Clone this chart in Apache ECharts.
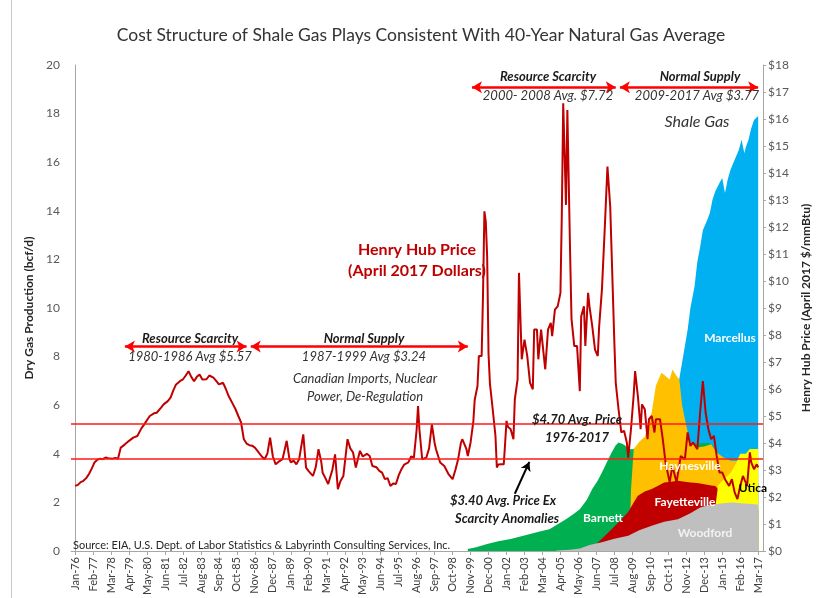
<!DOCTYPE html>
<html>
<head>
<meta charset="utf-8">
<title>Shale Gas Plays vs Henry Hub Price</title>
<script src="https://cdn.jsdelivr.net/npm/echarts@6/dist/echarts.min.js"></script>
<style>
  html, body { margin: 0; padding: 0; background: #fff; }
  #chart { width: 820px; height: 598px; }
</style>
</head>
<body>
<div id="chart"></div>
<script>
// x positions are month indices counted from Jan-76 (0) to Mar-17 (494)
const xTickLabels = [
  "Jan-76", "Feb-77", "Mar-78", "Apr-79", "May-80", "Jun-81", "Jul-82", "Aug-83",
  "Sep-84", "Oct-85", "Nov-86", "Dec-87", "Jan-89", "Feb-90", "Mar-91", "Apr-92",
  "May-93", "Jun-94", "Jul-95", "Aug-96", "Sep-97", "Oct-98", "Nov-99", "Dec-00",
  "Jan-02", "Feb-03", "Mar-04", "Apr-05", "May-06", "Jun-07", "Jul-08", "Aug-09",
  "Sep-10", "Oct-11", "Nov-12", "Dec-13", "Jan-15", "Feb-16", "Mar-17"
];
const tickStep = 13;

// Henry Hub price, April 2017 $/mmBtu  [month, price]
const henryHub = [
  [0,2.41],[2,2.45],[4,2.55],[6,2.6],[8,2.7],[10,2.85],[12,3.05],[14,3.28],[16,3.38],[18,3.42],
  [20,3.4],[22,3.46],[24,3.44],[25,3.5],[27,3.42],[29,3.45],[31,3.42],[33,3.83],[36,3.95],[39,4.08],
  [42,4.2],[45,4.26],[48,4.55],[50,4.69],[52,4.85],[54,5.0],[57,5.1],[59,5.12],[62,5.3],[64,5.43],
  [67,5.55],[69,5.68],[71,5.95],[73,6.17],[76,6.3],[78,6.36],[80,6.5],[82,6.66],[84,6.45],[86,6.29],
  [88,6.45],[90,6.54],[92,6.35],[95,6.36],[97,6.5],[100,6.42],[102,6.3],[104,6.17],[107,6.23],[109,6.0],
  [111,5.74],[114,5.45],[116,5.25],[118,5.0],[120,4.76],[122,4.14],[124,3.98],[126,3.92],[128,3.9],[130,3.83],
  [132,3.7],[135,3.5],[137,3.4],[139,3.6],[141,4.2],[143,3.5],[145,3.21],[147,3.3],[150,3.4],[153,4.08],
  [155,3.4],[156,3.28],[158,3.35],[160,3.21],[162,3.4],[165,4.32],[167,3.09],[169,2.95],[172,2.78],[174,3.1],
  [176,3.77],[178,3.3],[179,2.9],[181,2.7],[183,2.48],[186,3.0],[188,3.58],[190,2.29],[192,2.6],[194,2.78],
  [197,4.14],[199,3.8],[201,3.65],[203,3.09],[206,3.71],[208,3.5],[211,3.6],[213,3.52],[215,3.15],[218,3.1],
  [220,2.97],[222,2.9],[224,2.66],[226,2.7],[228,2.41],[230,2.5],[232,2.48],[234,2.8],[236,3.03],[238,3.2],
  [241,3.28],[243,3.5],[245,3.46],[247,4.5],[248,5.37],[249,4.5],[251,3.4],[254,3.46],[256,3.8],[258,4.69],
  [260,4.0],[261,3.77],[264,3.28],[267,3.15],[270,2.85],[273,2.66],[275,3.0],[277,3.4],[279,4.0],[280,4.14],
  [281,4.02],[283,3.77],[284,3.52],[286,4.02],[288,4.8],[289,5.6],[291,6.11],[292,7.22],[294,7.22],[295,9.5],
  [296,12.58],[297,12.2],[298,10.9],[299,7.28],[300,6.2],[302,5.25],[304,4.26],[305,3.09],[306,3.2],[308,3.21],
  [310,3.21],[311,4.0],[312,4.82],[313,4.6],[315,4.51],[317,4.14],[318,5.62],[320,6.36],[321,10.3],[323,7.1],
  [325,7.83],[327,7.22],[329,6.23],[331,5.99],[332,8.2],[334,8.2],[335,7.1],[337,8.2],[340,6.73],[342,8.2],
  [344,8.45],[345,7.96],[347,8.94],[349,9.06],[351,9.56],[352,12.5],[353,16.58],[355,12.82],[356,16.33],[358,11.0],
  [359,8.6],[361,7.59],[363,7.59],[365,5.92],[366,8.69],[368,9.06],[369,7.59],[371,9.56],[372,9.06],[374,8.33],
  [376,7.46],[378,7.22],[379,8.33],[381,9.68],[383,11.9],[385,14.24],[387,12.76],[390,7.71],[391,6.23],[393,5.25],
  [395,4.39],[397,4.45],[399,4.02],[400,3.46],[402,4.51],[404,5.8],[405,6.66],[407,5.74],[409,4.51],[410,5.43],
  [412,5.25],[414,4.14],[415,4.88],[417,5.0],[419,4.39],[420,4.88],[423,4.88],[425,4.14],[427,3.28],[430,2.54],
  [432,3.15],[435,2.54],[438,3.52],[441,3.4],[443,4.39],[445,3.89],[447,4.02],[450,3.77],[452,5.12],[454,6.29],
  [456,5.12],[458,4.51],[460,4.14],[462,4.26],[464,3.52],[466,2.91],[468,2.91],[470,2.66],[473,2.41],[475,2.66],
  [477,2.17],[479,1.92],[481,2.41],[483,2.78],[486,2.41],[488,3.65],[489,3.28],[491,3.03],[493,3.21],[494,3.1]
];

// dry gas production by play, bcf/d  [month, value]
const marcellus = [
  [384,0.1],[400,0.5],[410,1.5],[420,3.0],[428,4.5],[434,6.0],[437,7.1],[440,8.1],[443,9.1],[445,10.0],
  [448,10.9],[450,11.9],[452,12.5],[454,13.2],[457,13.6],[459,13.9],[461,14.46],[463,14.8],[466,15.14],[468,15.35],
  [470,14.73],[472,15.3],[474,15.69],[477,16.1],[480,16.5],[482,16.92],[484,16.37],[485,16.6],[487,16.92],[489,17.4],
  [491,17.74],[494,17.9]
];
const barnett = [
  [284,0.08],[290,0.15],[298,0.29],[306,0.4],[315,0.49],[322,0.6],[329,0.7],[336,0.8],[343,0.9],[349,1.1],
  [355,1.31],[360,1.5],[365,1.72],[370,2.1],[374,2.55],[378,2.9],[381,3.23],[385,3.7],[388,4.05],[391,4.35],
  [393,4.46],[396,4.4],[398,4.33],[400,4.2],[403,4.19],[410,4.3],[420,4.4],[430,4.45],[440,4.4],[450,4.42],
  [458,4.45],[462,4.3],[466,3.8],[472,3.5],[480,3.2],[494,2.8]
];
const haynesville = [
  [401,0.3],[402,2.5],[404,4.2],[408,4.5],[412,4.7],[417,5.7],[420,6.8],[424,7.34],[427,7.2],[430,7.06],
  [432,7.47],[435,7.2],[437,7.06],[439,6.0],[442,5.15],[445,4.46],[450,4.26],[455,4.3],[460,4.39],[464,4.05],
  [469,3.85],[474,3.71],[480,3.7],[486,3.7],[494,3.9]
];
const fayetteville = [
  [368,0.05],[375,0.2],[381,0.5],[388,0.9],[395,1.3],[400,1.6],[404,2.0],[407,2.27],[412,2.45],[417,2.55],
  [422,2.7],[426,2.82],[431,2.85],[436,2.89],[441,2.85],[445,2.82],[450,2.8],[455,2.75],[460,2.7],[463,2.68],
  [466,2.48],[470,2.3],[480,2.0],[494,1.7]
];
const utica = [
  [452,0.1],[456,0.4],[460,1.0],[463,1.8],[465,2.7],[470,3.0],[474,3.2],[478,3.6],[481,4.0],[485,4.0],
  [488,4.2],[494,4.2]
];
const woodford = [
  [348,0.02],[358,0.05],[365,0.1],[372,0.25],[381,0.36],[390,0.5],[400,0.63],[408,0.85],[417,1.04],[426,1.2],
  [436,1.31],[445,1.55],[452,1.79],[458,1.88],[464,1.93],[470,1.98],[476,2.0],[484,1.95],[490,1.93],[494,1.9]
];

const avgPrice = 4.70;
const avgPriceExScarcity = 3.40;

const FONT = "Lato";
const chart = echarts.init(document.getElementById("chart"));

function area(name, data, color) {
  return {
    name: name,
    type: "line",
    yAxisIndex: 0,
    data: data,
    symbol: "none",
    silent: true,
    lineStyle: { width: 0 },
    areaStyle: { color: color, opacity: 1 }
  };
}

function txt(text, x, y, font, fill) {
  return {
    type: "text",
    x: x,
    y: y,
    silent: true,
    z: 100,
    style: {
      text: text,
      font: font,
      fill: fill || "#1a1a1a",
      align: "center",
      verticalAlign: "middle",
      textAlign: "center",
      textVerticalAlign: "middle"
    }
  };
}

const redArrow = { color: "#ff0000", width: 2.5, type: "solid" };

const option = {
  animation: false,
  backgroundColor: "#fff",
  textStyle: { fontFamily: FONT },
  grid: { left: 71, right: 48, top: 65, bottom: 47 },
  xAxis: {
    type: "value",
    min: -3,
    max: 497.5,
    splitLine: { show: false },
    axisLine: { show: true, lineStyle: { color: "#a6a6a6" } },
    axisTick: {
      show: true,
      length: 4,
      customValues: xTickLabels.map((_, i) => i * tickStep),
      lineStyle: { color: "#a6a6a6" }
    },
    axisLabel: {
      rotate: 90,
      fontSize: 11,
      color: "#404040",
      margin: 6,
      customValues: xTickLabels.map((_, i) => i * tickStep),
      formatter: v => xTickLabels[Math.round(v / tickStep)]
    }
  },
  yAxis: [
    {
      type: "value",
      min: 0,
      max: 20,
      interval: 2,
      name: "Dry Gas Production (bcf/d)",
      nameLocation: "middle",
      nameRotate: 90,
      nameGap: 36,
      nameTextStyle: { fontWeight: "bold", fontSize: 12, color: "#262626" },
      splitLine: { show: false },
      axisTick: { show: false },
      axisLine: { show: true, lineStyle: { color: "#a6a6a6" } },
      axisLabel: { color: "#595959", fontSize: 12, margin: 11 }
    },
    {
      type: "value",
      min: 0,
      max: 18,
      interval: 1,
      position: "right",
      name: "Henry Hub Price (April 2017 $/mmBtu)",
      nameLocation: "middle",
      nameRotate: 90,
      nameGap: 37,
      nameTextStyle: { fontWeight: "bold", fontSize: 12, color: "#262626" },
      splitLine: { show: false },
      axisTick: { show: true, length: 3, lineStyle: { color: "#a6a6a6" } },
      axisLine: { show: true, lineStyle: { color: "#a6a6a6" } },
      axisLabel: { color: "#595959", fontSize: 12, margin: 5, formatter: "${value}" }
    }
  ],
  series: [
    area("Marcellus", marcellus, "#00b0f0"),
    area("Barnett", barnett, "#00b050"),
    area("Haynesville", haynesville, "#ffc000"),
    area("Fayetteville", fayetteville, "#c00000"),
    area("Utica", utica, "#ffff00"),
    area("Woodford", woodford, "#bfbfbf"),
    {
      name: "Henry Hub Price",
      type: "line",
      yAxisIndex: 1,
      data: henryHub,
      symbol: "none",
      silent: true,
      lineStyle: { color: "#c00000", width: 2 },
      markLine: {
        silent: true,
        symbol: "none",
        label: { show: false },
        lineStyle: { color: "#ff1a1a", width: 1.5, type: "solid" },
        data: [{ yAxis: avgPrice }, { yAxis: avgPriceExScarcity }]
      }
    },
    {
      name: "periods",
      type: "line",
      yAxisIndex: 1,
      data: [],
      silent: true,
      markLine: {
        silent: true,
        symbol: ["arrow", "arrow"],
        symbolSize: [9, 10],
        label: { show: false },
        lineStyle: redArrow,
        data: [
          [{ coord: [36, 7.57] }, { coord: [124, 7.57] }],
          [{ coord: [127, 7.57] }, { coord: [284, 7.57] }],
          [{ coord: [287, 17.18] }, { coord: [391, 17.18] }],
          [{ coord: [394, 17.18] }, { coord: [494, 17.18] }]
        ]
      }
    },
    {
      name: "pointer",
      type: "line",
      yAxisIndex: 1,
      data: [],
      silent: true,
      markLine: {
        silent: true,
        symbol: ["none", "arrow"],
        symbolSize: [8, 9],
        label: { show: false },
        lineStyle: { color: "#000", width: 2, type: "solid" },
        data: [[{ coord: [318, 2.12] }, { coord: [328.5, 3.3] }]]
      }
    }
  ],
  graphic: [
    {
      type: "line",
      silent: true,
      shape: { x1: 11.5, y1: 0, x2: 11.5, y2: 598 },
      style: { stroke: "#c8c8c8", lineWidth: 1 }
    },
    txt("Cost Structure of Shale Gas Plays Consistent With 40-Year Natural Gas Average", 421, 35, "17.5px " + FONT, "#333"),
    txt("Resource Scarcity", 190, 339, "italic bold 13px " + FONT),
    txt("1980-1986 Avg $5.57", 190, 357, "italic 13px " + FONT, "#333"),
    txt("Normal Supply", 364, 339, "italic bold 13px " + FONT),
    txt("1987-1999 Avg $3.24", 364, 357, "italic 13px " + FONT, "#333"),
    txt("Canadian Imports, Nuclear", 365, 379, "italic 13px " + FONT, "#333"),
    txt("Power, De-Regulation", 365, 397, "italic 13px " + FONT, "#333"),
    txt("Resource Scarcity", 548, 77, "italic bold 13px " + FONT),
    txt("2000- 2008 Avg. $7.72", 548, 96, "italic 13px " + FONT, "#333"),
    txt("Normal Supply", 700, 77, "italic bold 13px " + FONT),
    txt("2009-2017 Avg $3.77", 697, 96, "italic 13px " + FONT, "#333"),
    txt("Shale Gas", 697, 122, "italic 16px " + FONT, "#333"),
    txt("Henry Hub Price", 417, 250, "bold 16px " + FONT, "#c00000"),
    txt("(April 2017 Dollars)", 417, 271, "bold 16px " + FONT, "#c00000"),
    txt("$4.70 Avg. Price", 577, 420, "italic bold 13px " + FONT),
    txt("1976-2017", 577, 438, "italic bold 13px " + FONT),
    txt("$3.40 Avg. Price Ex", 503, 501, "italic bold 13px " + FONT),
    txt("Scarcity Anomalies", 507, 519, "italic bold 13px " + FONT),
    txt("Marcellus", 730, 338, "bold 12px " + FONT, "#fff"),
    txt("Haynesville", 690, 466, "bold 12px " + FONT, "#fff"),
    txt("Fayetteville", 685, 502, "bold 12px " + FONT, "#fff"),
    txt("Barnett", 603, 518, "bold 12px " + FONT, "#fff"),
    txt("Woodford", 705, 533, "bold 12px " + FONT, "#f2f2f2"),
    txt("Utica", 753, 488, "bold 12px " + FONT, "#000"),
    {
      type: "text",
      x: 73,
      y: 545,
      silent: true,
      z: 100,
      style: {
        text: "Source: EIA, U.S. Dept. of Labor Statistics & Labyrinth Consulting Services, Inc.",
        font: "11px " + FONT,
        fill: "#262626",
        align: "left",
        verticalAlign: "middle",
        textAlign: "left",
        textVerticalAlign: "middle"
      }
    }
  ]
};

chart.setOption(option);
</script>
</body>
</html>
